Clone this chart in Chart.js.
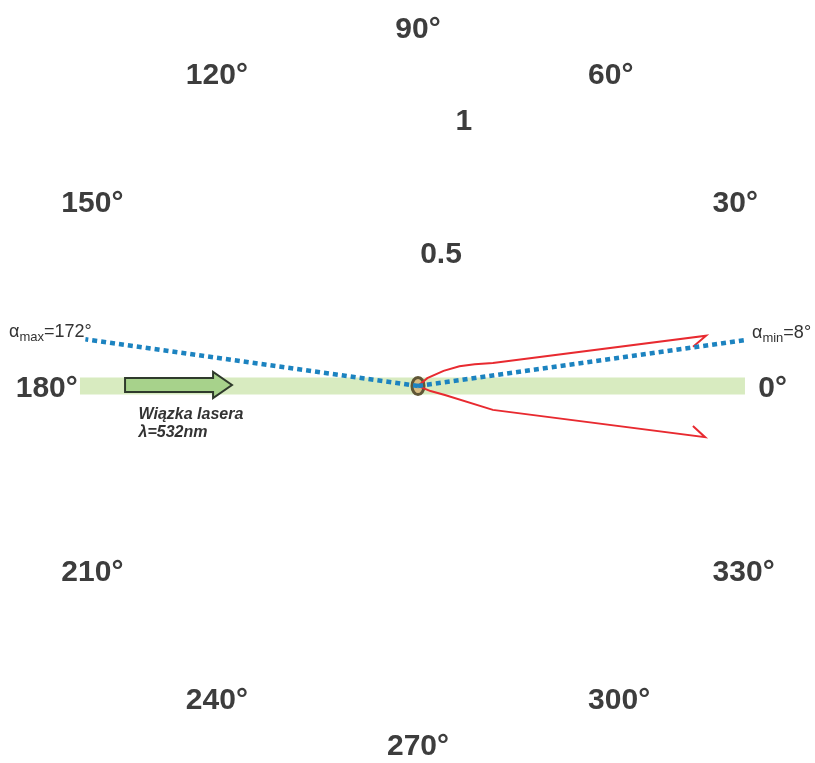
<!DOCTYPE html>
<html>
<head>
<meta charset="utf-8">
<script src="https://cdn.jsdelivr.net/npm/chart.js@4"></script>
<style>
  body { margin: 0; background: #fff; }
  canvas { display: block; }
</style>
</head>
<body>
<canvas id="myChart" width="815" height="763"></canvas>
<script>
// angle labels round the plot
const angleTicks = [0, 30, 60, 90, 120, 150, 180, 210, 240, 270, 300, 330];
const angleLabels = ["0°", "30°", "60°", "90°", "120°", "150°", "180°", "210°", "240°", "270°", "300°", "330°"];
// radial labels
const radialTicks = [0.5, 1];
const radialLabels = ["0.5", "1"];

// scattered light, angle in degrees, relative intensity
const scatterAngle = [8.1, 9.9, 17.0, 21.0, 25.5, 30.6, 40, 60, 300, 338, 341.6, 342.3, 349.9, 351.7];
const scatterIntensity = [1.029, 1.083, 0.290, 0.225, 0.170, 0.110, 0.045, 0, 0, 0.05, 0.105, 0.291, 1.080, 1.029];

// measuring limits
const alphaMin = 8;
const alphaMax = 172;
const alphaMinR = 1.222;
const alphaMaxR = 1.244;

// laser beam (band along 180° -> 0°)
const beamAngle = [180, 0];
const beamR = [1.252, 1.211];

function toXY(angles, radii) {
  var pts = [];
  for (let i = 0; i < angles.length; i++) {
    var t = angles[i] * Math.PI / 180;
    pts.push({x: radii[i] * Math.cos(t), y: radii[i] * Math.sin(t)});
  }
  return pts;
}

// sample (small ring in the middle)
const sampleImg = document.createElement('canvas');
sampleImg.width = 18; sampleImg.height = 24;
(function(){
  var c = sampleImg.getContext('2d');
  c.beginPath();
  c.ellipse(9, 12, 6, 8.5, 0, 0, Math.PI * 2);
  c.fillStyle = 'rgba(214,150,80,0.55)';
  c.fill();
  c.lineWidth = 3;
  c.strokeStyle = '#5f5636';
  c.stroke();
})();

const FONT = '"Liberation Sans", Arial, sans-serif';

const labelsPlugin = {
  id: 'polarLabels',
  afterDatasetsDraw(chart) {
    const ctx = chart.ctx;
    const xs = chart.scales.x, ys = chart.scales.y;
    const px = v => xs.getPixelForValue(v);
    const py = v => ys.getPixelForValue(v);
    ctx.save();

    // arrow for the laser beam
    var y0 = py(0) - 1;
    var xTail = px(-1.085), xBase = px(-0.759), xTip = px(-0.689);
    ctx.beginPath();
    ctx.moveTo(xTail, y0 - 7);
    ctx.lineTo(xBase, y0 - 7);
    ctx.lineTo(xBase, y0 - 13);
    ctx.lineTo(xTip, y0);
    ctx.lineTo(xBase, y0 + 13);
    ctx.lineTo(xBase, y0 + 7);
    ctx.lineTo(xTail, y0 + 7);
    ctx.closePath();
    ctx.fillStyle = '#a7d28b';
    ctx.fill();
    ctx.lineWidth = 2;
    ctx.strokeStyle = '#2f3a2c';
    ctx.stroke();

    ctx.fillStyle = '#333';
    ctx.textAlign = 'left';
    ctx.textBaseline = 'alphabetic';
    ctx.font = 'italic bold 16px ' + FONT;
    ctx.fillText('Wiązka lasera', px(-1.035), py(0) + 33);
    ctx.fillText('λ=532nm', px(-1.035), py(0) + 51);

    // angle labels, box placed just outside the label ring
    ctx.fillStyle = '#3d3d3d';
    ctx.font = 'bold 30px ' + FONT;
    var Rx = 1.26, Ry = 1.29, capH = 21;
    for (let i = 0; i < angleTicks.length; i++) {
      var t = angleTicks[i] * Math.PI / 180;
      var c = Math.cos(t), s = Math.sin(t);
      var x = px(Rx * c), y = py(Ry * s);
      ctx.textAlign = Math.abs(c) < 0.01 ? 'center' : (c > 0 ? 'left' : 'right');
      var yb = Math.abs(s) < 0.01 ? y + capH / 2 : (s > 0 ? y : y + capH);
      ctx.fillText(angleLabels[i], x, yb);
    }
    // radial labels
    ctx.textAlign = 'center';
    var ra = 80.2 * Math.PI / 180;
    for (let i = 0; i < radialTicks.length; i++) {
      ctx.fillText(radialLabels[i], px(radialTicks[i] * Math.cos(ra)), py(radialTicks[i] * Math.sin(ra)) + 10);
    }

    // alpha labels at the end of the dotted lines
    function alphaLabel(x, y, sub, rest) {
      ctx.textAlign = 'left';
      ctx.font = '18px ' + FONT;
      ctx.fillText('α', x, y);
      var w = ctx.measureText('α').width;
      ctx.font = '13px ' + FONT;
      ctx.fillText(sub, x + w, y + 4);
      var w2 = ctx.measureText(sub).width;
      ctx.font = '18px ' + FONT;
      ctx.fillText(rest, x + w + w2, y);
    }
    ctx.fillStyle = '#333';
    alphaLabel(9, 337, 'max', '=172°');
    alphaLabel(752, 338, 'min', '=8°');
    ctx.restore();
  }
};

const data = {
  datasets: [
    {
      label: 'beam',
      data: toXY(beamAngle, beamR),
      showLine: true,
      borderColor: '#d8ebc0',
      borderWidth: 17,
      borderCapStyle: 'butt',
      pointRadius: 0,
      order: 4
    },
    {
      label: 'sample',
      data: [{x: 0, y: 0}],
      pointStyle: sampleImg,
      pointRadius: 10,
      order: 3
    },
    {
      label: 'scattered light',
      data: toXY(scatterAngle, scatterIntensity),
      showLine: true,
      borderColor: 'rgb(232, 42, 48)',
      borderWidth: 2,
      pointRadius: 0,
      tension: 0,
      order: 2
    },
    {
      label: 'alpha min',
      data: toXY([0, alphaMin], [0, alphaMinR]),
      showLine: true,
      borderColor: '#1c83c0',
      borderWidth: 4.5,
      borderDash: [5, 4],
      borderCapStyle: 'butt',
      pointRadius: 0,
      order: 1
    },
    {
      label: 'alpha max',
      data: toXY([0, alphaMax], [0, alphaMaxR]),
      showLine: true,
      borderColor: '#1c83c0',
      borderWidth: 4.5,
      borderDash: [5, 4],
      borderCapStyle: 'butt',
      pointRadius: 0,
      order: 1
    }
  ]
};

const config = {
  type: 'scatter',
  data: data,
  options: {
    responsive: false,
    animation: false,
    layout: { padding: 0, autoPadding: false },
    plugins: { legend: { display: false }, tooltip: { enabled: false } },
    scales: {
      x: { type: 'linear', display: false, min: -418 / 270, max: 397 / 270 },
      y: { type: 'linear', display: false, min: -377 / 270, max: 386 / 270 }
    }
  },
  plugins: [labelsPlugin]
};

new Chart(document.getElementById('myChart'), config);
</script>
</body>
</html>
